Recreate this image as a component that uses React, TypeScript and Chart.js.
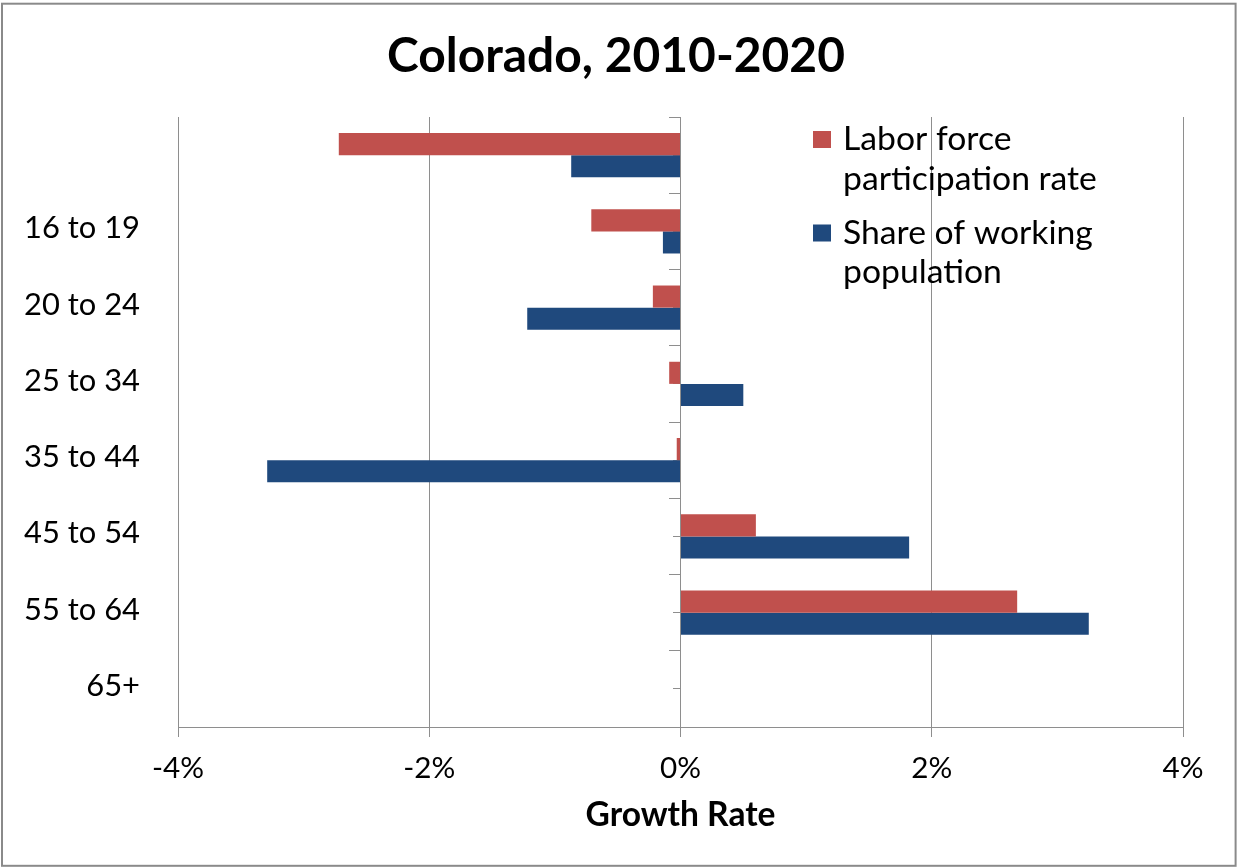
import { useEffect, useRef } from "react";
import { Chart, registerables } from "chart.js";

Chart.register(...registerables);

const categories = ["", "16 to 19", "20 to 24", "25 to 34", "35 to 44", "45 to 54", "55 to 64", "65+"];
const laborForce = [-2.72, -0.71, -0.22, -0.09, -0.03, 0.6, 2.68, null];
const workingShare = [-0.87, -0.14, -1.22, 0.5, -3.29, 1.82, 3.25, null];
const seriesLines = [
  ["Labor force", "participation rate"],
  ["Share of working", "population"],
];
const seriesColors = ["#C0504D", "#1F497D"];
const titleText = "Colorado, 2010-2020";
const axisTitleText = "Growth Rate";
const xMin = -4;
const xMax = 4;
const xStep = 2;

const FAMILY = "Lato";
const GRID = "#8e8e8e";

export default function App() {
  const ref = useRef<HTMLCanvasElement>(null);

  useEffect(() => {
    const canvas = ref.current!;
    const m = document.createElement("canvas").getContext("2d")!;
    const fit = (text: string, weight: string, target: number) => {
      m.font = `${weight} 100px ${FAMILY}`;
      return (100 * target) / m.measureText(text).width;
    };
    const titleSize = fit(titleText, "bold", 458);
    const axisTitleSize = fit(axisTitleText, "bold", 190);
    const yLabelSize = fit("16 to 19", "normal", 116);
    const xLabelSize = fit("-4%", "normal", 52);
    const legendSize = fit("participation rate", "normal", 254);

    const titleLH = titleSize * 1.2;
    const titlePadTop = 57 - titleLH / 2;
    const titlePadBottom = 117 - titlePadTop - titleLH;

    const xScaleHeight = 140;
    const axisTitleLH = axisTitleSize * 1.2;
    const axisTitlePadBottom = 867 - 815 - axisTitleLH / 2;
    const xTickPad = 768 - 727 - 10 - (xLabelSize * 1.2) / 2;

    const framePlugin = {
      id: "frame",
      beforeDraw(chart: any) {
        const ctx = chart.ctx;
        ctx.save();
        ctx.fillStyle = "#ffffff";
        ctx.fillRect(0, 0, chart.width, chart.height);
        ctx.strokeStyle = "#8a8a8a";
        ctx.lineWidth = 2;
        ctx.strokeRect(2, 3.7, 1233.6, 862.1);
        ctx.restore();
      },
    };

    const legendPlugin = {
      id: "sideLegend",
      afterDraw(chart: any) {
        const ctx = chart.ctx;
        ctx.save();
        chart.data.datasets.forEach((ds: any, i: number) => {
          const top = 131 + i * 93.5;
          ctx.fillStyle = ds.backgroundColor;
          ctx.fillRect(813, top, 18, 17);
          ctx.fillStyle = "#000000";
          ctx.font = `normal ${legendSize}px ${FAMILY}`;
          ctx.textAlign = "left";
          ctx.textBaseline = "alphabetic";
          seriesLines[i].forEach((line, j) => {
            ctx.fillText(line, 843, top + 19 + j * 39.5);
          });
        });
        ctx.restore();
      },
    };

    const chart = new Chart(canvas, {
      type: "bar",
      data: {
        labels: categories,
        datasets: [
          {
            label: seriesLines[0].join(" "),
            data: laborForce,
            backgroundColor: seriesColors[0],
            borderWidth: 0,
            barPercentage: 1,
            categoryPercentage: 0.58,
          },
          {
            label: seriesLines[1].join(" "),
            data: workingShare,
            backgroundColor: seriesColors[1],
            borderWidth: 0,
            barPercentage: 1,
            categoryPercentage: 0.58,
          },
        ],
      },
      options: {
        indexAxis: "y",
        animation: false,
        responsive: false,
        maintainAspectRatio: false,
        layout: { padding: { left: 8, right: 14, top: 0, bottom: 0 } },
        plugins: {
          legend: { display: false },
          tooltip: { enabled: false },
          title: {
            display: true,
            text: titleText,
            color: "#000000",
            font: { family: FAMILY, size: titleSize, weight: "bold", lineHeight: 1.2 },
            padding: { top: titlePadTop, bottom: titlePadBottom },
          },
        },
        scales: {
          x: {
            type: "linear",
            min: xMin,
            max: xMax,
            ticks: {
              stepSize: xStep,
              color: "#000000",
              font: { family: FAMILY, size: xLabelSize, lineHeight: 1.2 },
              padding: xTickPad,
              callback: (v: any) => `${v}%`,
            },
            grid: { color: GRID, lineWidth: 1, drawTicks: true, tickLength: 10 },
            border: { display: true, color: GRID, width: 1 },
            title: {
              display: true,
              text: axisTitleText,
              color: "#000000",
              font: { family: FAMILY, size: axisTitleSize, weight: "bold", lineHeight: 1.2 },
              padding: { top: 0, bottom: axisTitlePadBottom },
            },
            afterFit: (scale: any) => {
              scale.height = xScaleHeight;
            },
          },
          y: {
            type: "category",
            offset: true,
            grid: { display: false, drawTicks: false, tickLength: 0 },
            border: { display: false },
            ticks: {
              color: "#000000",
              font: { family: FAMILY, size: yLabelSize, lineHeight: 1.2 },
              padding: 38,
              labelOffset: -3,
              autoSkip: false,
            },
            afterFit: (scale: any) => {
              scale.width = 170;
            },
          },
          yr: {
            type: "category",
            axis: "y",
            position: "right",
            offset: true,
            grid: { display: false, drawTicks: false },
            border: { display: false },
            ticks: { display: false },
            afterFit: (scale: any) => {
              scale.width = 41;
            },
          },
          yb: {
            type: "category",
            axis: "y",
            position: { x: 0 },
            offset: true,
            grid: {
              display: true,
              drawOnChartArea: false,
              drawTicks: true,
              tickLength: 11,
              color: GRID,
              offset: true,
            },
            border: { display: true, color: GRID, width: 1 },
            ticks: { display: false },
          },
          yc: {
            type: "category",
            axis: "y",
            position: { x: 0 },
            offset: true,
            grid: {
              display: true,
              drawOnChartArea: false,
              drawTicks: true,
              tickLength: 8,
              color: GRID,
              offset: false,
            },
            border: { display: false },
            ticks: { display: false },
          },
        },
      } as any,
      plugins: [framePlugin, legendPlugin],
    });

    return () => chart.destroy();
  }, []);

  return (
    <div style={{ position: "fixed", left: 0, top: 0, width: 1238, height: 867 }}>
      <canvas ref={ref} width={1238} height={867} style={{ display: "block" }} />
    </div>
  );
}
